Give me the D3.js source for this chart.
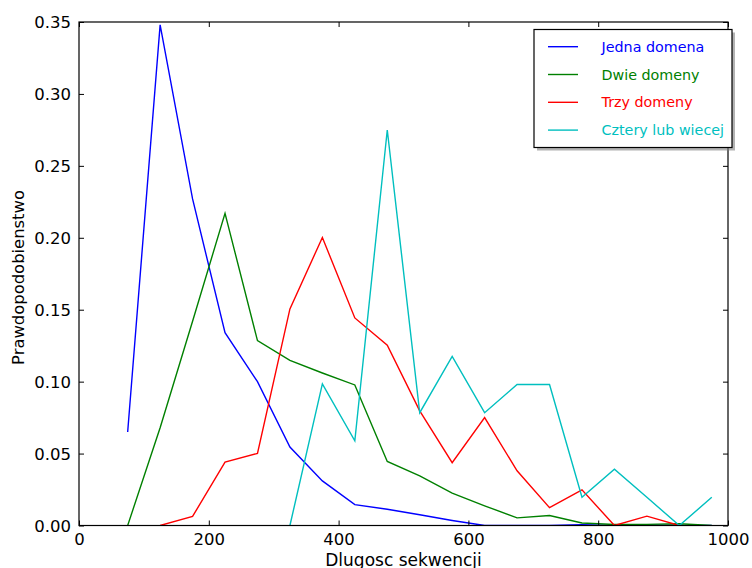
<!DOCTYPE html>
<html>
<head>
<meta charset="utf-8">
<script src="https://cdn.jsdelivr.net/npm/d3@7"></script>
<style>
  html, body { margin: 0; padding: 0; background: #fff; }
  svg { display: block; font-family: "DejaVu Sans", sans-serif; }
</style>
</head>
<body>
<svg id="chart" width="752" height="568"></svg>
<script>
// ---- data ----
const binCenters = [75, 125, 175, 225, 275, 325, 375, 425, 475, 525, 575, 625, 675, 725, 775, 825, 875, 925, 975];
const seriesNames = ["Jedna domena", "Dwie domeny", "Trzy domeny", "Cztery lub wiecej"];
const jednaDomena = [0.065, 0.348, 0.227, 0.134, 0.100, 0.0545, 0.031, 0.0145, 0.0113, 0.0075, 0.0035, 0.0, 0.0, 0.0, 0.0005, 0.0, 0.0003, 0.0, 0.0];
const dwieDomeny = [0.0, 0.068, 0.142, 0.217, 0.1285, 0.1148, 0.106, 0.0977, 0.0445, 0.0345, 0.0225, 0.0137, 0.0053, 0.0069, 0.0017, 0.0007, 0.0008, 0.0012, 0.0];
const trzyDomeny = [null, 0.0, 0.0063, 0.0441, 0.0501, 0.1506, 0.2002, 0.1443, 0.1253, 0.0797, 0.0437, 0.075, 0.038, 0.0124, 0.0248, 0.0, 0.0065, 0.0, null];
const czteryLubWiecej = [null, null, null, null, null, 0.0, 0.0984, 0.0589, 0.2749, 0.0784, 0.1176, 0.0784, 0.098, 0.098, 0.0196, 0.0392, 0.0196, 0.0, 0.0196];
const xTicks = [0, 200, 400, 600, 800, 1000];
const yTicks = [0.00, 0.05, 0.10, 0.15, 0.20, 0.25, 0.30, 0.35];
const xLabel = "Dlugosc sekwencji";
const yLabel = "Prawdopodobienstwo";
const colors = ["#0000ff", "#008000", "#ff0000", "#00bfbf"];

const allSeries = [jednaDomena, dwieDomeny, trzyDomeny, czteryLubWiecej];

// ---- layout ----
const svg = d3.select("#chart");
const mLeft = 79, mRight = 728, mTop = 22, mBottom = 525.5;
const x = d3.scaleLinear().domain([0, 1000]).range([mLeft, mRight]);
const y = d3.scaleLinear().domain([0, 0.35]).range([mBottom, mTop]);

svg.append("defs").append("clipPath").attr("id", "clip")
  .append("rect").attr("x", mLeft).attr("y", mTop - 2).attr("width", mRight - mLeft).attr("height", mBottom - mTop + 2);

const plot = svg.append("g");

const line = d3.line()
  .defined(d => d[1] !== null)
  .x(d => x(d[0]))
  .y(d => y(d[1]));

allSeries.forEach((vals, i) => {
  const pts = binCenters.map((c, j) => [c, vals[j]]);
  plot.append("path")
    .datum(pts)
    .attr("d", line)
    .attr("fill", "none")
    .attr("stroke", colors[i])
    .attr("stroke-width", 1.4)
    .attr("stroke-linejoin", "miter")
    .attr("clip-path", "url(#clip)");
});

// frame
svg.append("rect")
  .attr("x", mLeft).attr("y", mTop)
  .attr("width", mRight - mLeft).attr("height", mBottom - mTop)
  .attr("fill", "none").attr("stroke", "#000").attr("stroke-width", 1.2);

// axes with inward ticks
const tickLen = 5;
const xAxisB = d3.axisBottom(x).tickValues(xTicks).tickSizeInner(-tickLen).tickSizeOuter(0).tickPadding(tickLen + 3).tickFormat(d3.format("d"));
const gxb = svg.append("g").attr("transform", `translate(0,${mBottom})`).call(xAxisB);
const xAxisT = d3.axisTop(x).tickValues(xTicks).tickSizeInner(-tickLen).tickSizeOuter(0).tickFormat("");
const gxt = svg.append("g").attr("transform", `translate(0,${mTop})`).call(xAxisT);
const yAxisL = d3.axisLeft(y).tickValues(yTicks).tickSizeInner(-tickLen).tickSizeOuter(0).tickPadding(tickLen + 3).tickFormat(d3.format(".2f"));
const gyl = svg.append("g").attr("transform", `translate(${mLeft},0)`).call(yAxisL);
const yAxisR = d3.axisRight(y).tickValues(yTicks).tickSizeInner(-tickLen).tickSizeOuter(0).tickFormat("");
const gyr = svg.append("g").attr("transform", `translate(${mRight},0)`).call(yAxisR);

[gxb, gxt, gyl, gyr].forEach(g => {
  g.select(".domain").remove();
  g.selectAll(".tick line").attr("stroke", "#000").attr("stroke-width", 1);
  g.selectAll(".tick text").attr("fill", "#000")
    .style("font-family", "DejaVu Sans").style("font-size", "16.5px");
});
gxb.selectAll(".tick text").attr("dy", "0.71em");
gyl.selectAll(".tick text").attr("dy", "0.35em");

// axis labels
svg.append("text")
  .attr("x", (mLeft + mRight) / 2).attr("y", 565.5)
  .attr("text-anchor", "middle")
  .style("font-size", "17px").attr("fill", "#000")
  .text(xLabel);
svg.append("text")
  .attr("transform", `translate(23.5,277.5) rotate(-90)`)
  .attr("text-anchor", "middle")
  .style("font-size", "16.4px").attr("fill", "#000")
  .text(yLabel);

// legend
const lg = svg.append("g");
const lx = 534, ly = 29.5, lw = 198, lh = 118;
lg.append("rect").attr("x", lx + 3).attr("y", ly + 3).attr("width", lw).attr("height", lh)
  .attr("fill", "#808080").attr("opacity", 0.6);
lg.append("rect").attr("x", lx).attr("y", ly).attr("width", lw).attr("height", lh)
  .attr("fill", "#fff").attr("stroke", "#000").attr("stroke-width", 1.2);
seriesNames.forEach((name, i) => {
  const ry = 46.7 + i * 27.8;
  lg.append("line").attr("x1", 548).attr("x2", 578).attr("y1", ry).attr("y2", ry)
    .attr("stroke", colors[i]).attr("stroke-width", 1.4);
  lg.append("text").attr("x", 601.5).attr("y", ry).attr("dy", "0.35em")
    .style("font-size", "14.3px").attr("fill", colors[i]).text(name);
});
</script>
</body>
</html>
